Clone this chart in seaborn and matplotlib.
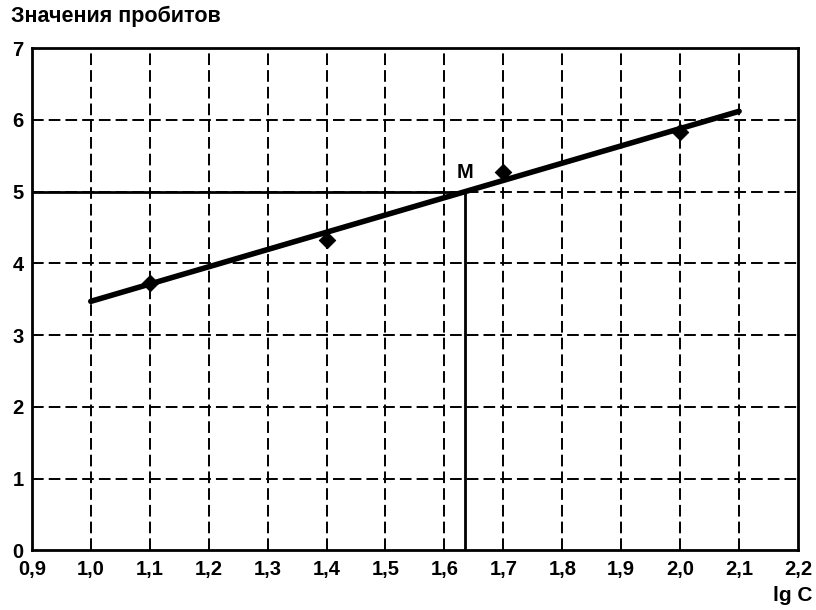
import matplotlib
matplotlib.use("Agg")
import matplotlib.pyplot as plt
import seaborn as sns
import pandas as pd

# data
point_lgc = [1.1, 1.4, 1.7, 2.0]
point_probit = [3.72, 4.33, 5.27, 5.83]

fit_lgc = [1.0, 2.1]
fit_probit = [3.47, 6.12]

m_lgc = 1.635
m_probit = 5.0

x_ticks = [0.9, 1.0, 1.1, 1.2, 1.3, 1.4, 1.5, 1.6, 1.7, 1.8, 1.9, 2.0, 2.1, 2.2]
y_ticks = [0, 1, 2, 3, 4, 5, 6, 7]

sns.set_style("white")
plt.rcParams['font.family'] = ['Liberation Sans', 'DejaVu Sans']
plt.rcParams['font.weight'] = "bold"
plt.rcParams['text.color'] = "black"
plt.rcParams['xtick.color'] = "black"
plt.rcParams['ytick.color'] = "black"

fig = plt.figure(figsize=(8.16, 6.10), dpi=100)
ax = fig.add_axes([0.039, 0.098, 0.939, 0.823])

# dashed grid
for xv in x_ticks[1:-1]:
    ax.axvline(xv, color="black", lw=1.4, ls=(0, (6, 2.6)), zorder=1)
for yv in y_ticks[1:-1]:
    ax.axhline(yv, color="black", lw=1.4, ls=(0, (6, 2.6)), zorder=1)

fit_df = pd.DataFrame({"lgC": fit_lgc, "probit": fit_probit})
sns.lineplot(data=fit_df, x="lgC", y="probit", color="black", lw=4, ax=ax, zorder=3)

pts_df = pd.DataFrame({"lgC": point_lgc, "probit": point_probit})
sns.scatterplot(data=pts_df, x="lgC", y="probit", marker="D", s=70, color="black",
                edgecolor="black", ax=ax, zorder=4)

# point M and its projections
ax.plot([x_ticks[0], m_lgc], [m_probit, m_probit], color="black", lw=2, zorder=2)
ax.plot([m_lgc, m_lgc], [y_ticks[0], m_probit], color="black", lw=2, zorder=2)
ax.text(m_lgc, m_probit + 0.14, "M", fontsize=14.5, ha="center", va="bottom")

ax.set_xlim(x_ticks[0], x_ticks[-1])
ax.set_ylim(y_ticks[0], y_ticks[-1])
ax.set_xticks(x_ticks)
ax.set_xticklabels([f"{v:.1f}".replace(".", ",") for v in x_ticks], fontsize=14.5)
ax.set_yticks(y_ticks)
ax.set_yticklabels([str(v) for v in y_ticks], fontsize=14.5)
ax.tick_params(axis="x", length=0, pad=7)
ax.tick_params(axis="y", length=0, pad=6)
for lab in ax.get_yticklabels():
    lab.set_verticalalignment("center_baseline")
ax.set_xlabel("")
ax.set_ylabel("")

for sp in ax.spines.values():
    sp.set_visible(True)
    sp.set_color("black")
    sp.set_linewidth(2)

fig.text(0.014, 0.955, "Значения пробитов", fontsize=15.5, ha="left", va="bottom")
fig.text(0.996, 0.008, "lg C", fontsize=15, ha="right", va="bottom")

fig.savefig("out.png", dpi=100)
